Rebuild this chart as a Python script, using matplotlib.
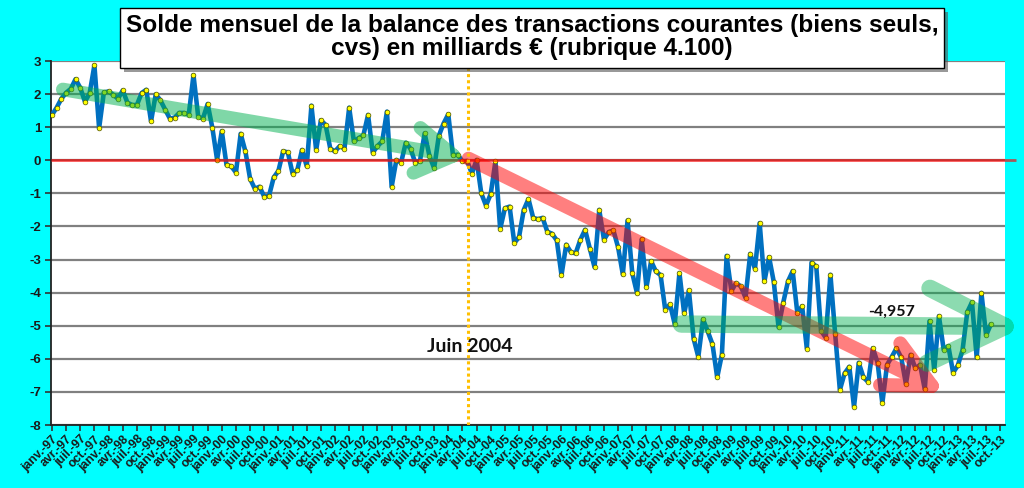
import numpy as np
import matplotlib
matplotlib.use('Agg')
import matplotlib.pyplot as plt
from matplotlib.path import Path
from matplotlib.patches import PathPatch, Rectangle

# ---------------- data ----------------
years = ['97', '98', '99', '00', '01', '02', '03', '04', '05', '06',
         '07', '08', '09', '10', '11', '12', '13']
quarter_months = ['janv.', 'avr.', 'juil.', 'oct.']
tick_labels = [f'{m}-{y}' for y in years for m in quarter_months]

values = [
    1.37, 1.59, 1.86, 2.04, 2.16, 2.45, 2.19, 1.77, 2.03, 2.87, 0.97, 2.05,
    2.08, 1.98, 1.86, 2.11, 1.74, 1.67, 1.67, 2.03, 2.13, 1.18, 1.99, 1.81,
    1.53, 1.26, 1.29, 1.43, 1.43, 1.38, 2.57, 1.32, 1.26, 1.70, 0.98, 0.02,
    0.88, -0.14, -0.18, -0.37, 0.80, 0.27, -0.56, -0.86, -0.80, -1.10, -1.08, -0.52,
    -0.32, 0.27, 0.24, -0.40, -0.30, 0.31, -0.18, 1.65, 0.31, 1.21, 1.07, 0.35,
    0.27, 0.43, 0.35, 1.59, 0.57, 0.67, 0.75, 1.37, 0.23, 0.43, 0.57, 1.47,
    -0.80, 0.01, -0.07, 0.53, 0.35, -0.07, -0.02, 0.81, 0.14, -0.24, 0.74, 1.11,
    1.39, 0.15, 0.17, -0.03, -0.02, -0.40, 0.01, -1.00, -1.37, -1.02, -0.03, -2.08,
    -1.45, -1.40, -2.50, -2.32, -1.50, -1.17, -1.74, -1.78, -1.74, -2.16, -2.22, -2.42,
    -3.47, -2.55, -2.78, -2.81, -2.40, -2.10, -2.67, -3.23, -1.50, -2.40, -2.17, -2.12,
    -2.63, -3.45, -1.82, -3.41, -4.01, -2.39, -3.83, -3.05, -3.36, -3.47, -4.53, -4.35,
    -4.95, -3.41, -4.63, -3.93, -5.39, -5.94, -4.81, -5.17, -5.56, -6.56, -5.87, -2.89,
    -3.95, -3.71, -3.81, -4.15, -2.83, -3.28, -1.90, -3.66, -2.93, -3.68, -5.04, -4.30,
    -3.66, -3.35, -4.63, -4.41, -5.69, -3.09, -3.21, -5.15, -5.36, -3.46, -5.24, -6.94,
    -6.44, -6.24, -7.45, -6.12, -6.56, -6.70, -5.68, -6.12, -7.34, -6.18, -5.94, -5.68,
    -5.96, -6.76, -5.88, -6.29, -6.18, -6.92, -4.86, -6.34, -4.71, -5.72, -5.62, -6.42,
    -6.20, -5.74, -4.59, -4.29, -5.96, -4.01, -5.29, -4.957,
]
last_value_label = '-4,957'
event_label = 'Juin 2004'
event_index = 88.1

title = ('Solde mensuel de la balance des transactions courantes (biens seuls,\n'
         'cvs) en milliards € (rubrique 4.100)')

# ---------------- figure ----------------
W, H = 1024, 488
fig = plt.figure(figsize=(W / 100, H / 100), dpi=100, facecolor='#00FFFF')
L, R, T, B = 51, 1005, 61, 425
ax = fig.add_axes([L / W, 1 - B / H, (R - L) / W, (B - T) / H])
ax.set_facecolor('white')

x = np.arange(len(values))
ax.plot(x, values, color='#0070C0', lw=3.3, zorder=3,
        solid_joinstyle='round', solid_capstyle='round')
ax.plot(x, values, ls='none', marker='o', ms=3.4, mfc='#FFFF00',
        mec='#555500', mew=0.5, zorder=4)

ax.set_xlim(-0.2, 202)
ax.set_ylim(-8, 3)
ax.set_yticks(range(-8, 4))
ax.set_yticklabels([str(v) for v in range(-8, 4)])
ax.yaxis.grid(True, color='#808080', lw=1.6, zorder=1)
ax.set_axisbelow(True)

ticks = np.arange(0, 3 * len(tick_labels), 3)
ax.set_xticks(ticks)
ax.set_xticklabels(tick_labels, rotation=45, ha='right', rotation_mode='anchor')
ax.tick_params(axis='x', length=4, width=1.2, color='#333333', pad=2,
               labelsize=8.8, labelcolor='#1a1a1a')
ax.tick_params(axis='y', length=4, width=1.2, color='#333333', pad=3,
               labelsize=9.5, labelcolor='#1a1a1a')
for lab in ax.get_xticklabels() + ax.get_yticklabels():
    lab.set_fontweight('bold')
    lab.set_fontfamily('Liberation Sans')

for s in ['top', 'right']:
    ax.spines[s].set_visible(False)
for s in ['left', 'bottom']:
    ax.spines[s].set_color('#222222')
    ax.spines[s].set_linewidth(1.3)

# zero line (extends a bit outside the plot)
ax.plot([-0.2, 204.3], [0, 0], color='#FF0000', lw=2.0, alpha=0.65,
        zorder=5, clip_on=False, solid_capstyle='butt')

# event line
ax.axvline(event_index, color='#FFC000', lw=2.2, ls=(0, (1, 1)), zorder=6)
ax.text(event_index + 0.5, -5.62, event_label, ha='center', va='center',
        fontsize=14, fontweight='bold', family='Lato', color='#111111', zorder=7)
ax.text(178.0, -4.58, last_value_label, ha='center', va='center',
        fontsize=11.5, fontweight='bold', family='Lato', color='#111111', zorder=7)


def trend_arrow(start, tip, arm1, arm2, color, lw, alpha):
    # shaft + two arms in one path so overlaps don't darken
    verts = [start, tip, arm1, tip, arm2]
    codes = [Path.MOVETO, Path.LINETO, Path.MOVETO, Path.LINETO, Path.LINETO]
    p = PathPatch(Path(verts, codes), fill=False, edgecolor=color, lw=lw,
                  alpha=alpha, capstyle='round', joinstyle='round', zorder=5,
                  clip_on=False)
    ax.add_patch(p)


trend_arrow((2.3, 2.14), (85.1, 0.14), (78.1, 0.98), (76.6, -0.38),
            '#00B050', 9.8, 0.5)
trend_arrow((88.3, 0.05), (186.5, -6.82), (179.8, -5.53), (175.5, -6.79),
            '#FF0000', 10.0, 0.5)
trend_arrow((133.4, -4.95), (202.0, -5.02), (186.1, -3.87), (185.5, -6.13),
            '#00B050', 12.5, 0.45)

# title box with shadow
bx0, bx1, by0, by1 = 120, 944, 8, 68
fig.patches.append(Rectangle(((bx0 + 4) / W, 1 - (by1 + 4) / H),
                             (bx1 - bx0) / W, (by1 - by0) / H,
                             transform=fig.transFigure, facecolor='#555555',
                             edgecolor='none', alpha=0.6, zorder=8))
fig.patches.append(Rectangle((bx0 / W, 1 - by1 / H), (bx1 - bx0) / W,
                             (by1 - by0) / H, transform=fig.transFigure,
                             facecolor='white', edgecolor='black', lw=1.0,
                             zorder=9))
fig.text((bx0 + bx1) / 2 / W, 1 - (by0 + by1) / 2 / H + 0.002, title, ha='center',
         va='center', fontsize=17.6, fontweight='bold',
         family='Liberation Sans', linespacing=1.05, zorder=10)

fig.savefig('out.png', dpi=100, facecolor=fig.get_facecolor())
